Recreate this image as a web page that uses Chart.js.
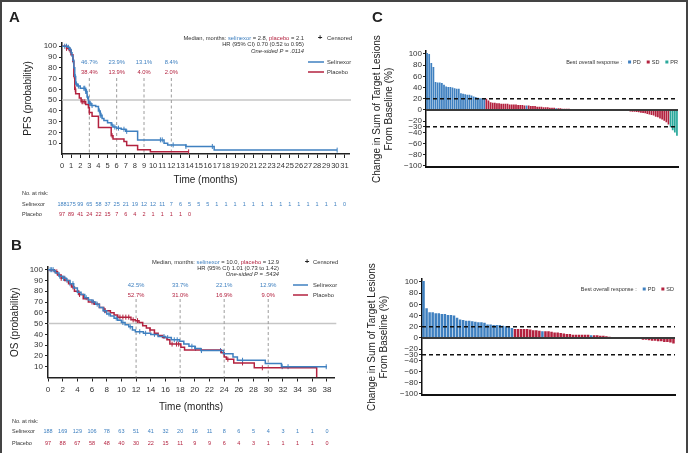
<!DOCTYPE html>
<html>
<head>
<meta charset="utf-8">
<script src="https://cdn.jsdelivr.net/npm/chart.js@4.4.1/dist/chart.umd.min.js"></script>
<style>
  html, body { margin: 0; padding: 0; background: #fff; }
  #fig { position: relative; width: 688px; height: 453px; overflow: hidden; }
  .box { position: absolute; }
  #frame { position: absolute; left: 0; top: 0; width: 688px; height: 453px; box-sizing: border-box;
           border-left: 2px solid #444; border-top: 2px solid #444; border-right: 2px solid #444; pointer-events: none; }
</style>
</head>
<body>
<div id="fig">
  <div class="box" style="left:0;top:0;width:356px;height:226px"><canvas id="pfs"></canvas></div>
  <div class="box" style="left:0;top:228px;width:350px;height:225px"><canvas id="os"></canvas></div>
  <div class="box" style="left:355px;top:0;width:333px;height:226px"><canvas id="wfTop"></canvas></div>
  <div class="box" style="left:355px;top:228px;width:333px;height:225px"><canvas id="wfBot"></canvas></div>
  <div id="frame"></div>
</div>
<script>
const FONT = '"Liberation Sans", Arial, sans-serif';
const BLUE = '#3f80c0';
const RED = '#b3223f';
const TEAL = '#2ba99c';
const INK = '#222';
const SMALL = 5.8;

// ---- A: progression-free survival ----
const pfsSelTime = [0, 0.6, 0.8, 1.0, 1.1, 1.2, 1.3, 1.4, 1.5, 1.7, 2.0, 2.6, 2.75, 2.9, 3.2, 3.7, 4.0, 4.2, 4.4, 4.6, 5.0, 5.4, 5.6, 6.0, 6.5, 7.0, 8.3, 11.2, 11.6, 13.6, 16.7, 30.2];
const pfsSelSurv = [100, 99, 97, 94, 91, 87, 80, 72, 65, 63, 61, 58, 53, 47, 45, 44, 40, 36, 33, 31, 29, 27, 25, 24, 23, 21, 13.1, 10, 8.4, 7, 3.6, 3.6];
const pfsSelCensor = [0.3, 0.5, 0.7, 0.9, 1.0, 1.2, 1.45, 1.6, 1.8, 2.4, 2.5, 2.6, 2.7, 2.8, 3.0, 3.1, 3.3, 4.1, 4.2, 4.3, 5.5, 5.8, 6.2, 6.8, 7.1, 10.8, 11.0, 12.2, 13.6, 16.5, 30.2];
const pfsPlaTime = [0, 0.5, 0.8, 1.0, 1.2, 1.3, 1.4, 1.5, 1.9, 2.1, 2.6, 2.9, 3.0, 3.3, 4.0, 5.4, 5.6, 6.8, 7.1, 8.3, 9.7, 13.9];
const pfsPlaSurv = [100, 98, 96, 92, 86, 72, 60, 56, 52, 48.5, 46, 43, 38.4, 35, 24.5, 17, 13.9, 11.5, 8, 4, 2, 2];
const pfsPlaCensor = [0.5, 0.9, 1.25, 1.35, 1.45, 2.2, 2.3, 2.5, 3.0, 5.5, 13.9];
const pfsMonths = [0, 1, 2, 3, 4, 5, 6, 7, 8, 9, 10, 11, 12, 13, 14, 15, 16, 17, 18, 19, 20, 21, 22, 23, 24, 25, 26, 27, 28, 29, 30, 31];
const pfsRiskSel = [188, 175, 99, 65, 58, 37, 25, 21, 19, 12, 12, 11, 7, 6, 5, 5, 5, 1, 1, 1, 1, 1, 1, 1, 1, 1, 1, 1, 1, 1, 1, 0];
const pfsRiskPla = [97, 89, 41, 24, 22, 15, 7, 6, 4, 2, 1, 1, 1, 1, 0];
const pfsMarks = [3, 6, 9, 12];
const pfsPctSel = ['46.7%', '23.9%', '13.1%', '8.4%'];
const pfsPctPla = ['38.4%', '13.9%', '4.0%', '2.0%'];

// ---- B: overall survival ----
const osSelTime = [0, 0.8, 1.0, 1.5, 2.0, 2.5, 3.0, 3.5, 4.0, 4.5, 5.0, 5.5, 6.0, 6.5, 7.0, 7.5, 8.0, 8.5, 9.0, 9.5, 10.0, 10.5, 11.0, 11.5, 11.9, 13.0, 14.0, 15.0, 16.0, 16.8, 17.9, 18.5, 19.2, 20.0, 20.8, 23.9, 25.2, 25.8, 29.6, 31.8, 38.0];
const osSelSurv = [100, 99, 97, 94, 92, 90, 87, 83, 79, 77, 74, 72, 70, 68, 65, 62, 59, 57, 55, 53, 51, 49, 47, 44, 42.5, 41, 40, 38, 37, 35, 33.7, 31, 29, 27, 25, 22.1, 19, 16, 12.9, 10, 10];
const osSelCensor = [0.3, 0.5, 0.7, 1.6, 2.1, 2.3, 2.6, 3.0, 3.4, 4.1, 5.2, 6.2, 6.7, 7.7, 8.3, 9.3, 10.2, 11.2, 12.5, 13.3, 14.5, 15.8, 16.3, 17.2, 17.6, 19.6, 20.1, 20.9, 23.5, 26.5, 31.9, 32.7, 37.9];
const osPlaTime = [0, 0.9, 1.3, 1.8, 2.3, 2.8, 3.2, 3.6, 4.2, 4.8, 5.5, 6.3, 7.0, 7.6, 8.5, 9.0, 9.5, 11.3, 11.9, 12.4, 12.9, 13.4, 13.9, 14.5, 15.0, 15.6, 16.2, 16.6, 18.1, 18.6, 23.6, 24.0, 24.3, 25.3, 28.1, 36.6];
const osPlaSurv = [100, 98, 95, 92, 90, 87, 84, 80, 77, 73, 70, 68, 65, 62, 60, 58, 56, 53.5, 52.7, 51, 48, 46, 44, 41, 39, 37, 35, 31, 28, 25.5, 23, 19, 16.9, 13.5, 9.0, 0];
const osPlaCensor = [1.2, 1.8, 2.2, 3.4, 4.3, 6.0, 7.8, 9.8, 10.2, 10.6, 11.0, 11.6, 12.2, 13.9, 14.5, 16.9, 17.5, 17.8, 24.5, 26.5, 29.2];
const osMonths = [0, 2, 4, 6, 8, 10, 12, 14, 16, 18, 20, 22, 24, 26, 28, 30, 32, 34, 36, 38];
const osRiskSel = [188, 169, 129, 106, 78, 63, 51, 41, 32, 20, 16, 11, 8, 6, 5, 4, 3, 1, 1, 0];
const osRiskPla = [97, 88, 67, 58, 48, 40, 30, 22, 15, 11, 9, 9, 6, 4, 3, 1, 1, 1, 1, 0];
const osMarks = [12, 18, 24, 30];
const osPctSel = ['42.5%', '33.7%', '22.1%', '12.9%'];
const osPctPla = ['52.7%', '31.0%', '16.9%', '9.0%'];

const survTicks = [10, 20, 30, 40, 50, 60, 70, 80, 90, 100];

// ---- C: waterfalls (D = PD, S = SD, R = PR) ----
const topChange = [102, 100, 84, 77, 50, 49, 49, 48, 45, 42, 41, 41, 40, 39, 38, 38, 30, 29, 28, 27, 27, 26, 24, 23, 22, 21, 21, 20,
  20, 17, 14, 13, 13, 12, 12, 11, 11, 11, 11, 10, 10, 10, 10, 9, 9, 9, 8, 8, 8, 7, 7, 7, 6, 6, 6, 5, 5, 5, 4, 4, 4, 3, 3, 3,
  2, 2, 2, 2, 1.5, 1.5, 1, 1, 1, 1, 0.5, 0.5,
  0, 0, 0, 0, 0, 0, 0, 0, 0, 0, 0,
  -0.5, -0.5, -1, -1, -1, -1.5, -1.5, -2, -2, -2.5, -3, -3, -3.5, -4, -5, -5.5, -6, -7, -8, -9, -10, -12, -13, -15, -17, -19, -22, -26,
  -31, -36, -40, -46];
const topResponse = 'DDDDDDDDDDDDDDDDDDDDDDDDDDDD' +
  'SSSSSSSSSSSSSSSSSSSDSSSSSSSSSSSSSDSSSSSSSDSSSSSS' +
  'SSSSSSSSSSS' +
  'SSSSSSSSSSSSSSSSSSSSSSSSSSSS' +
  'RRRR';
const botChange = [102, 53, 46, 46, 44, 44, 43, 43, 41, 41, 40, 36, 33, 32, 31, 31, 30, 29, 28, 28, 27, 24, 24, 23, 23, 23, 22, 21, 20, 18,
  16, 16, 16, 16, 16, 15, 14, 14, 13, 12, 12, 12, 11, 10, 10, 9, 8, 7, 7, 6, 6, 6, 6, 6, 6, 5, 5, 5, 4, 4, 3, 2, 1, 1, 1, 0.5,
  0, 0, 0, 0,
  -2, -2, -3, -3, -4, -5, -5, -6, -6, -7, -7, -8, -10];
const botResponse = 'DDDDDDDDDDDDDDDDDDDDDDDDDDDDDD' +
  'SSSSSSSSSDSSSSSSSSSSSSSSSDSSSSSSSSSS' +
  'SSSS' +
  'SSSSSSSSSSSSS';
const cTicks = [100, 80, 60, 40, 20, 0, -20, -30, -40, -60, -80, -100];
const cLines = [20, -30];
const responseColor = { D: BLUE, S: RED, R: TEAL };
const responseName = { D: 'PD', S: 'SD', R: 'PR' };

// ---- helpers ----
const steps = (t, s) => t.map((v, i) => ({ x: v, y: s[i] }));
const survAt = (t, s, at) => { let v = s[0]; t.forEach((ti, i) => { if (ti <= at) v = s[i]; }); return v; };
const censorPoints = (t, s, c) => c.map(at => ({ x: at, y: survAt(t, s, at) }));

function text(ctx, s, x, y, size, color, align, weight) {
  ctx.font = (weight || '') + ' ' + size + 'px ' + FONT;
  ctx.fillStyle = color;
  ctx.textAlign = align || 'left';
  ctx.textBaseline = 'middle';
  ctx.fillText(s, x, y);
}
function richRight(ctx, parts, right, y, size) {
  const width = p => { ctx.font = (p[2] || '') + ' ' + size + 'px ' + FONT; return ctx.measureText(p[0]).width; };
  let x = right - parts.reduce((w, p) => w + width(p), 0);
  parts.forEach(p => { const w = width(p); text(ctx, p[0], x, y, size, p[1], 'left', p[2]); x += w; });
}
function stroke(ctx, x0, y0, x1, y1) {
  ctx.beginPath(); ctx.moveTo(x0, y0); ctx.lineTo(x1, y1); ctx.stroke();
}

function kmPlugin(p) {
  return {
    id: 'km',
    beforeDatasetsDraw(chart) {
      const { ctx, chartArea: a, scales: { x, y } } = chart;
      ctx.save();
      ctx.strokeStyle = '#c6c6c6'; ctx.lineWidth = 1.5;
      stroke(ctx, a.left, y.getPixelForValue(50), a.right + 2, y.getPixelForValue(50));
      ctx.strokeStyle = '#9c9c9c'; ctx.lineWidth = 1; ctx.setLineDash([3, 2.5]);
      p.marks.forEach(m => { const px = x.getPixelForValue(m); stroke(ctx, px, p.dashTop, px, a.bottom); });
      ctx.restore();
    },
    afterDraw(chart) {
      const { ctx, scales: { x } } = chart;
      ctx.save();
      text(ctx, p.letter, p.letterX, 17.5, 15, INK, 'left', 'bold');
      // median / HR block
      p.median.forEach((parts, i) => richRight(ctx, parts, p.medRight, p.medY[i], SMALL));
      // legend
      text(ctx, '+', p.leg.plusX, p.medY[0], 8, INK, 'center', 'bold');
      text(ctx, 'Censored', p.leg.textX, p.medY[0], SMALL, '#333');
      ctx.lineWidth = 1.5;
      [[BLUE, 'Selinexor', p.pctY[0]], [RED, 'Placebo', p.pctY[1]]].forEach(([c, name, yy]) => {
        ctx.strokeStyle = c; stroke(ctx, p.leg.lineX0, yy, p.leg.lineX1, yy);
        text(ctx, name, p.leg.textX, yy, SMALL, '#333');
      });
      // landmark percentages
      p.marks.forEach((m, i) => {
        text(ctx, p.pctSel[i], x.getPixelForValue(m), p.pctY[0], SMALL, BLUE, 'center');
        text(ctx, p.pctPla[i], x.getPixelForValue(m), p.pctY[1], SMALL, RED, 'center');
      });
      // number at risk
      text(ctx, 'No. at risk:', p.tableX, p.rowY[0], 5.5, '#333');
      text(ctx, 'Selinexor', p.tableX, p.rowY[1], 5.5, '#333');
      text(ctx, 'Placebo', p.tableX, p.rowY[2], 5.5, '#333');
      p.riskTimes.forEach((t, i) => {
        if (i < p.riskSel.length) text(ctx, String(p.riskSel[i]), x.getPixelForValue(t), p.rowY[1], 5.5, BLUE, 'center');
        if (i < p.riskPla.length) text(ctx, String(p.riskPla[i]), x.getPixelForValue(t), p.rowY[2], 5.5, RED, 'center');
      });
      ctx.restore();
    }
  };
}

function kmChart(id, p) {
  return new Chart(document.getElementById(id), {
    type: 'line',
    data: {
      datasets: [
        { data: steps(p.selTime, p.selSurv), borderColor: BLUE, borderWidth: 1.5, stepped: true, pointRadius: 0 },
        { data: steps(p.plaTime, p.plaSurv), borderColor: RED, borderWidth: 1.5, stepped: true, pointRadius: 0 },
        { data: censorPoints(p.selTime, p.selSurv, p.selCensor), showLine: false, pointStyle: 'line', rotation: 90,
          pointRadius: 2.5, pointBorderColor: BLUE, pointBorderWidth: 1 },
        { data: censorPoints(p.plaTime, p.plaSurv, p.plaCensor), showLine: false, pointStyle: 'line', rotation: 90,
          pointRadius: 2.5, pointBorderColor: RED, pointBorderWidth: 1 }
      ]
    },
    options: {
      responsive: true, maintainAspectRatio: false, animation: false,
      layout: { padding: p.padding },
      plugins: { legend: { display: false }, tooltip: { enabled: false } },
      scales: {
        x: {
          type: 'linear', min: 0, max: p.xMax,
          afterBuildTicks: s => { s.ticks = p.riskTimes.map(v => ({ value: v })); },
          afterFit: s => { s.height = p.xHeight; },
          grid: { drawOnChartArea: false, tickLength: 4, color: INK },
          border: { color: INK, width: 1.5 },
          ticks: { font: { family: FONT, size: p.xTickSize }, color: '#333', padding: 3, maxRotation: 0, autoSkip: false },
          title: { display: true, text: 'Time (months)', font: { family: FONT, size: 10 }, color: INK, padding: 0 }
        },
        y: {
          min: 0, max: p.yMax,
          afterBuildTicks: s => { s.ticks = survTicks.map(v => ({ value: v })); },
          afterFit: s => { s.width = p.yWidth; },
          grid: { drawOnChartArea: false, tickLength: 3, color: INK },
          border: { color: INK, width: 1.5 },
          ticks: { font: { family: FONT, size: 8 }, color: '#333', padding: 2, autoSkip: false },
          title: { display: true, text: p.yTitle, font: { family: FONT, size: 10 }, color: INK, padding: { top: p.yTitlePad, bottom: 0 } }
        }
      }
    },
    plugins: [kmPlugin(p)]
  });
}

kmChart('pfs', {
  selTime: pfsSelTime, selSurv: pfsSelSurv, selCensor: pfsSelCensor,
  plaTime: pfsPlaTime, plaSurv: pfsPlaSurv, plaCensor: pfsPlaCensor,
  riskTimes: pfsMonths, riskSel: pfsRiskSel, riskPla: pfsRiskPla,
  marks: pfsMarks, pctSel: pfsPctSel, pctPla: pfsPctPla,
  xMax: 31.5, yMax: 103, padding: { left: 0, top: 43, right: 7, bottom: 40 }, xHeight: 32, yWidth: 62, xTickSize: 7.5,
  yTitle: 'PFS (probability)', yTitlePad: 22, letter: 'A', letterX: 9,
  dashTop: 78, pctY: [62, 72], tableX: 22, rowY: [193, 204, 214],
  medRight: 304, medY: [38, 44.5, 51.5],
  median: [
    [['Median, months: ', '#333'], ['selinexor', BLUE], [' = 2.8, ', '#333'], ['placebo', RED], [' = 2.1', '#333']],
    [['HR (95% CI) 0.70 (0.52 to 0.95)', '#333']],
    [['One-sided P = .0114', '#333', 'italic']]
  ],
  leg: { plusX: 320, textX: 327, lineX0: 308, lineX1: 324 }
});

kmChart('os', {
  selTime: osSelTime, selSurv: osSelSurv, selCensor: osSelCensor,
  plaTime: osPlaTime, plaSurv: osPlaSurv, plaCensor: osPlaCensor,
  riskTimes: osMonths, riskSel: osRiskSel, riskPla: osRiskPla,
  marks: osMarks, pctSel: osPctSel, pctPla: osPctPla,
  xMax: 39, yMax: 102.5, padding: { left: 0, top: 39, right: 15.7, bottom: 40 }, xHeight: 35.5, yWidth: 48, xTickSize: 8,
  yTitle: 'OS (probability)', yTitlePad: 9, letter: 'B', letterX: 11,
  dashTop: 71, pctY: [57, 67], tableX: 12, rowY: [193, 203.5, 215],
  medRight: 279, medY: [34, 40.3, 46.3],
  median: [
    [['Median, months: ', '#333'], ['selinexor', BLUE], [' = 10.0, ', '#333'], ['placebo', RED], [' = 12.9', '#333']],
    [['HR (95% CI) 1.01 (0.73 to 1.42)', '#333']],
    [['One-sided P = .5434', '#333', 'italic']]
  ],
  leg: { plusX: 307, textX: 313, lineX0: 293, lineX1: 308 }
});

function wfPlugin(p) {
  return {
    id: 'wf',
    afterDatasetsDraw(chart) {
      const { ctx, chartArea: a, scales: { y } } = chart;
      ctx.save();
      ctx.strokeStyle = '#3a3a3a'; ctx.lineWidth = 2;
      stroke(ctx, a.left, y.getPixelForValue(0), a.right, y.getPixelForValue(0));
      ctx.strokeStyle = '#111'; ctx.lineWidth = 1.5; ctx.setLineDash([4, 3]);
      cLines.forEach(v => stroke(ctx, a.left, y.getPixelForValue(v), a.right, y.getPixelForValue(v)));
      ctx.restore();
    },
    afterDraw(chart) {
      const { ctx } = chart;
      const size = 5.5;
      ctx.save();
      if (p.letter) text(ctx, p.letter, 17, 17.5, 15, INK, 'left', 'bold');
      ctx.font = size + 'px ' + FONT;
      const label = 'Best overall response :';
      const itemW = k => 5 + ctx.measureText(responseName[k]).width;
      const total = ctx.measureText(label).width + p.legItems.reduce((w, k) => w + 6 + itemW(k), 0);
      let x = p.legRight - total;
      text(ctx, label, x, p.legY, size, '#333');
      x += ctx.measureText(label).width;
      p.legItems.forEach(k => {
        x += 6;
        ctx.fillStyle = responseColor[k];
        ctx.fillRect(x, p.legY - 1.5, 3, 3);
        text(ctx, responseName[k], x + 5, p.legY, size, '#333');
        x += itemW(k);
      });
      ctx.restore();
    }
  };
}

function wfChart(id, values, codes, p) {
  return new Chart(document.getElementById(id), {
    type: 'bar',
    data: {
      labels: values.map((_, i) => i + 1),
      datasets: [{
        data: values,
        backgroundColor: codes.split('').map(c => responseColor[c]),
        barPercentage: 0.82, categoryPercentage: 1, borderWidth: 0
      }]
    },
    options: {
      responsive: true, maintainAspectRatio: false, animation: false,
      layout: { padding: p.padding },
      plugins: { legend: { display: false }, tooltip: { enabled: false } },
      scales: {
        x: {
          ticks: { display: false }, grid: { display: false },
          border: { color: '#111', width: 2 },
          afterFit: s => { s.height = 1; }
        },
        y: {
          min: -102, max: 105,
          afterBuildTicks: s => { s.ticks = cTicks.map(v => ({ value: v })); },
          afterFit: s => { s.width = p.yWidth; },
          grid: { drawOnChartArea: false, tickLength: 3, color: INK },
          border: { color: '#111', width: 1.5 },
          ticks: { font: { family: FONT, size: 8 }, color: '#333', padding: 1, autoSkip: false,
                   callback: v => (v < 0 ? '\u2212' + Math.abs(v) : String(v)) },
          title: { display: true, text: ['Change in Sum of Target Lesions', 'From Baseline (%)'],
                   font: { family: FONT, size: 10 }, color: INK, padding: { top: p.yTitlePad, bottom: 0 } }
        }
      }
    },
    plugins: [wfPlugin(p)]
  });
}

wfChart('wfTop', topChange, topResponse, {
  padding: { left: 0, top: 51.2, right: 10, bottom: 57.9 }, yWidth: 71, yTitlePad: 16,
  letter: 'C', legRight: 323, legY: 62, legItems: ['D', 'S', 'R']
});
wfChart('wfBot', botChange, botResponse, {
  padding: { left: 0, top: 51.2, right: 13, bottom: 56.9 }, yWidth: 67, yTitlePad: 11,
  letter: '', legRight: 319, legY: 61, legItems: ['D', 'S']
});
</script>
</body>
</html>
